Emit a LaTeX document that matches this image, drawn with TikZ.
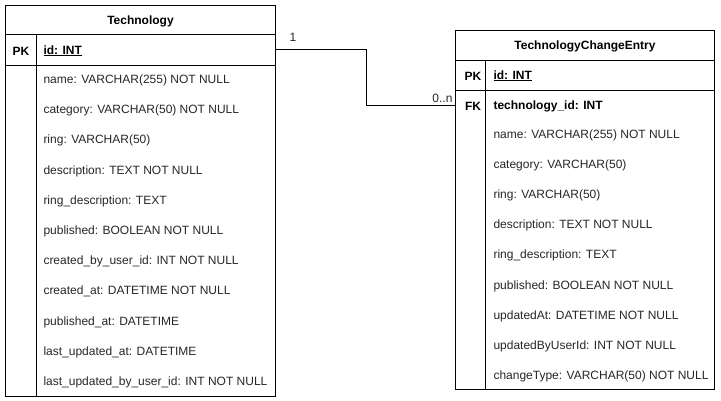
\documentclass[tikz,border=0pt]{standalone}
\usepackage{fontspec}
\setmainfont{Liberation Sans}
\begin{document}
\begin{tikzpicture}[x=1pt,y=-1pt,line width=1pt,
  font=\fontsize{12}{14}\selectfont,
  box/.style={draw,rectangle,inner sep=0pt,anchor=north west},
  area/.style={rectangle,inner sep=0pt,anchor=north west},
  field/.style={anchor=west,inner sep=0pt,text height=8.6pt,text depth=2.5pt,text=black!85,yshift=-1.5pt},
  keyfield/.style={field,font=\fontsize{12}{14}\selectfont\bfseries,text=black},
  keylbl/.style={anchor=center,inner sep=0pt,text height=8.6pt,text depth=0pt,yshift=-1.5pt,font=\fontsize{12}{14}\selectfont\bfseries},
  title/.style={inner sep=0pt,text height=8.6pt,text depth=2.5pt,yshift=-1pt,font=\fontsize{12}{14}\selectfont\bfseries},
  mult/.style={inner sep=0pt,text=black!85,yshift=-1pt},
  rel/.style={draw,line width=1pt}]
\useasboundingbox (0,0) rectangle (721,401);

% ---------- Technology ----------
\node[box,minimum width=270pt,minimum height=391pt] (tech) at (5,5) {};
\node[box,minimum width=270pt,minimum height=29pt] (techhead) at (5,5) {};
\node[title] (techtitle) at (techhead.center) {Technology};
\node[box,minimum width=270pt,minimum height=31pt] (techpk) at (5,34) {};
\draw (36,34) -- (36,396);
\node[keylbl] (techpklbl) at (21,49.5) {PK};
\node[keyfield] (techid) at (43,49.5) {\underline{id: INT}};
\node[field] (t1) at (43,79) {name: VARCHAR(255) NOT NULL};
\node[field] (t2) at (43,109.2) {category: VARCHAR(50) NOT NULL};
\node[field] (t3) at (43,139.4) {ring: VARCHAR(50)};
\node[field] (t4) at (43,169.6) {description: TEXT NOT NULL};
\node[field] (t5) at (43,199.8) {ring\_description: TEXT};
\node[field] (t6) at (43,230) {published: BOOLEAN NOT NULL};
\node[field] (t7) at (43,260.2) {created\_by\_user\_id: INT NOT NULL};
\node[field] (t8) at (43,290.4) {created\_at: DATETIME NOT NULL};
\node[field] (t9) at (43,320.6) {published\_at: DATETIME};
\node[field] (t10) at (43,350.8) {last\_updated\_at: DATETIME};
\node[field] (t11) at (43,381) {last\_updated\_by\_user\_id: INT NOT NULL};

% ---------- TechnologyChangeEntry ----------
\node[box,minimum width=259pt,minimum height=359pt] (tce) at (455,30) {};
\node[box,minimum width=259pt,minimum height=30pt] (tcehead) at (455,30) {};
\node[title] (tcetitle) at (tcehead.center) {TechnologyChangeEntry};
\node[box,minimum width=259pt,minimum height=30pt] (tcepk) at (455,60) {};
\node[area,minimum width=259pt,minimum height=30pt] (tcefk) at (455,90) {};
\draw (485,60) -- (485,389);
\node[keylbl] (tcepklbl) at (473,74.5) {PK};
\node[keyfield] (tceid) at (493,74.5) {\underline{id: INT}};
\node[keylbl] (tcefklbl) at (473,104.5) {FK};
\node[keyfield] (tcetid) at (493,104.5) {technology\_id: INT};
\node[field] (c1) at (493,134) {name: VARCHAR(255) NOT NULL};
\node[field] (c2) at (493,164.1) {category: VARCHAR(50)};
\node[field] (c3) at (493,194.2) {ring: VARCHAR(50)};
\node[field] (c4) at (493,224.3) {description: TEXT NOT NULL};
\node[field] (c5) at (493,254.4) {ring\_description: TEXT};
\node[field] (c6) at (493,284.5) {published: BOOLEAN NOT NULL};
\node[field] (c7) at (493,314.6) {updatedAt: DATETIME NOT NULL};
\node[field] (c8) at (493,344.7) {updatedByUserId: INT NOT NULL};
\node[field] (c9) at (493,374.8) {changeType: VARCHAR(50) NOT NULL};

% ---------- relation ----------
\draw[rel] (techpk.east) -- ++(90,0) |- (tcefk.west);
\node[mult] (one) at (293,36) {1};
\node[mult,anchor=east] (many) at (453,97) {0..n};
\end{tikzpicture}
\end{document}
